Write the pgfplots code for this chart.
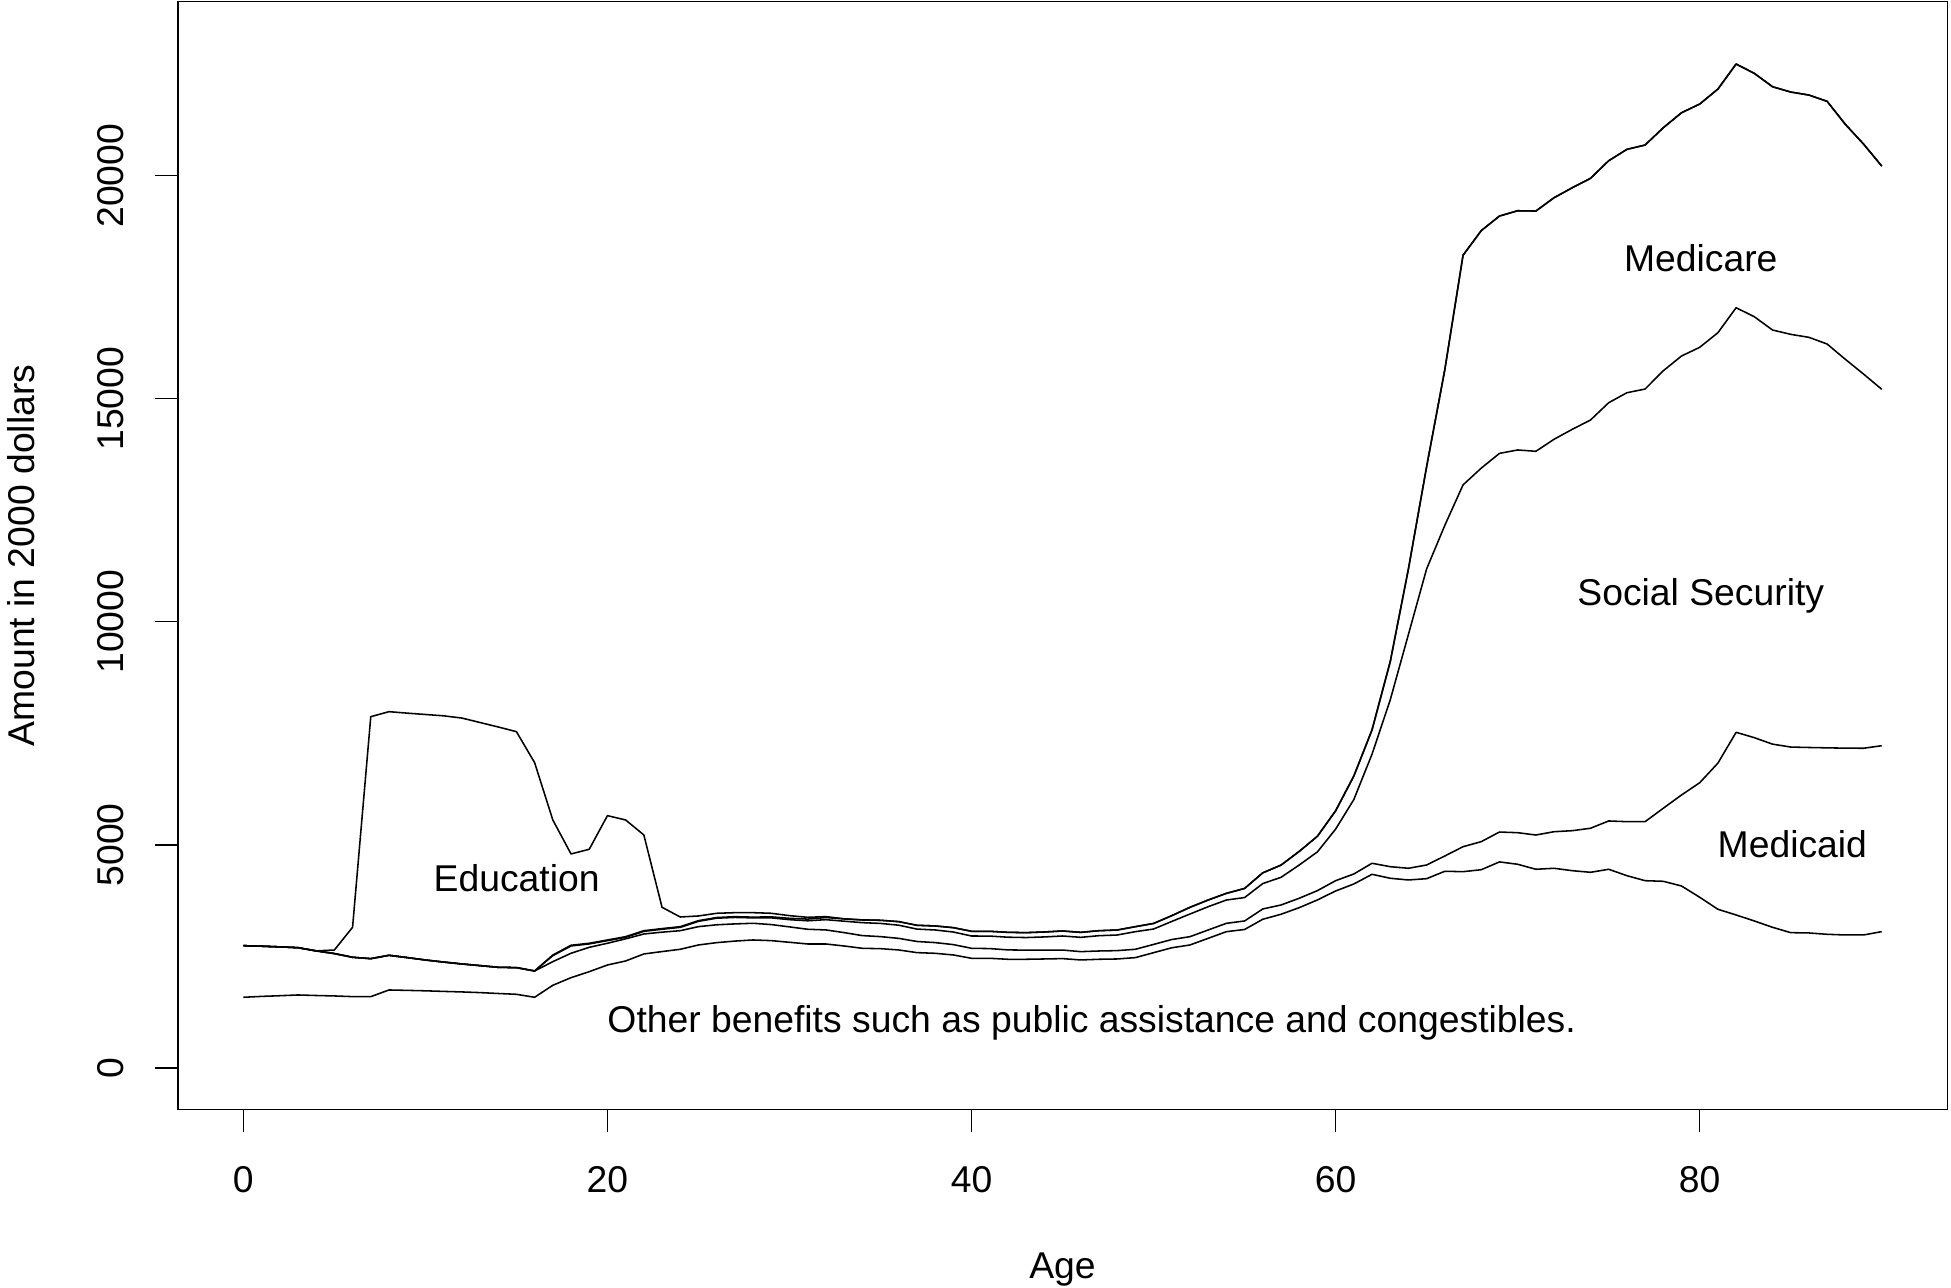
\documentclass[border=0pt]{standalone}
\usepackage{fontspec}
\setmainfont{Liberation Sans}
\usepackage{pgfplots}
\pgfplotsset{compat=1.18}
\usepackage{pgfplotstable}
\pgfplotstableread{
age l1 l2 l3 l4 l5
0 1580 2737 2737 2737 2737
1 1600 2725 2725 2725 2725
2 1615 2710 2710 2710 2710
3 1632 2692 2692 2692 2692
4 1620 2620 2620 2620 2620
5 1610 2560 2560 2560 2640
6 1595 2477 2477 2477 3149
7 1594 2446 2446 2446 7871
8 1744 2521 2521 2521 7983
9 1735 2470 2470 2470 7950
10 1725 2416 2416 2416 7920
11 1712 2370 2370 2370 7890
12 1700 2327 2327 2327 7840
13 1685 2290 2290 2290 7740
14 1665 2252 2252 2252 7640
15 1647 2245 2245 2245 7535
16 1580 2170 2170 2170 6840
17 1849 2379 2513 2528 5555
18 2020 2567 2731 2746 4793
19 2154 2700 2776 2791 4898
20 2304 2791 2850 2865 5652
21 2394 2890 2924 2939 5555
22 2551 2999 3058 3073 5219
23 2605 3040 3105 3120 3597
24 2656 3073 3148 3163 3380
25 2753 3164 3283 3298 3403
26 2805 3205 3353 3368 3463
27 2840 3225 3370 3387 3477
28 2865 3239 3360 3377 3477
29 2850 3210 3360 3383 3463
30 2813 3158 3320 3350 3410
31 2775 3105 3295 3333 3373
32 2775 3090 3320 3368 3388
33 2730 3030 3286 3336 3340
34 2678 2963 3253 3313 3316
35 2670 2940 3236 3306 3306
36 2641 2901 3196 3276 3276
37 2581 2831 3109 3194 3194
38 2566 2806 3089 3179 3179
39 2529 2761 3043 3141 3141
40 2454 2678 2954 3059 3059
41 2454 2672 2952 3059 3059
42 2432 2642 2927 3036 3036
43 2432 2637 2919 3029 3029
44 2439 2637 2933 3044 3044
45 2447 2639 2954 3066 3066
46 2417 2603 2924 3036 3036
47 2432 2618 2961 3073 3073
48 2439 2626 2976 3088 3088
49 2469 2656 3051 3163 3163
50 2580 2765 3110 3235 3235
51 2690 2875 3280 3410 3410
52 2753 2939 3447 3597 3597
53 2902 3089 3611 3761 3761
54 3051 3238 3760 3910 3910
55 3100 3291 3816 4020 4020
56 3329 3560 4130 4370 4370
57 3441 3649 4269 4543 4543
58 3589 3800 4545 4850 4850
59 3762 3971 4840 5190 5190
60 3963 4194 5350 5760 5760
61 4120 4344 6012 6539 6539
62 4337 4584 7030 7574 7574
63 4248 4508 8247 9103 9103
64 4210 4472 9715 11184 11184
65 4239 4546 11184 13477 13477
66 4405 4748 12161 15653 15653
67 4396 4956 13067 18215 18215
68 4440 5069 13443 18767 18767
69 4615 5285 13773 19094 19094
70 4562 5270 13850 19213 19213
71 4450 5218 13820 19206 19206
72 4472 5292 14090 19505 19505
73 4418 5315 14313 19729 19729
74 4382 5369 14521 19939 19939
75 4450 5533 14909 20334 20334
76 4306 5517 15133 20589 20589
77 4194 5517 15216 20686 20686
78 4180 5818 15626 21074 21074
79 4075 6115 15956 21410 21410
80 3822 6390 16151 21605 21605
81 3553 6830 16478 21941 21941
82 3425 7520 17039 22502 22502
83 3291 7400 16837 22293 22293
84 3149 7255 16539 21993 21993
85 3029 7190 16442 21874 21874
86 3022 7180 16375 21807 21807
87 2992 7172 16225 21665 21665
88 2977 7165 15882 21150 21150
89 2977 7163 15552 20708 20708
90 3052 7220 15210 20215 20215
}\data

\begin{document}
\begin{tikzpicture}[font=\fontsize{12pt}{14pt}\selectfont]
\useasboundingbox (-57.2pt,-57.4pt) rectangle (570.4pt,356.9pt);
\begin{axis}[
  at={(0,0)}, anchor=south west,
  scale only axis, width=569.2pt, height=356.4pt,
  xmin=-3.6, xmax=93.6, ymin=-935, ymax=23903,
  axis line style={line width=0.5pt, black},
  xtick={0,20,40,60,80}, xticklabels={0,20,40,60,80},
  ytick={0,5000,10000,15000,20000}, yticklabels={0,5000,10000,15000,20000},
  scaled ticks=false,
  xtick pos=left, ytick pos=left,
  tick align=inside, major tick length=-7.3pt,
  tick style={line width=0.5pt, black},
  xticklabel style={anchor=north, inner sep=0pt},
  yticklabel style={rotate=90, anchor=south, inner sep=0pt},
  xticklabel shift=18.2pt, yticklabel shift=17pt,
  xlabel={Age}, ylabel={Amount in 2000 dollars},
  xlabel style={at={(axis description cs:0.5,-0.1529)}, anchor=base, inner sep=0pt},
  ylabel style={at={(axis description cs:-0.0808,0.5)}, anchor=base, inner sep=0pt},
  clip=false,
]
\addplot[black, line width=0.5pt, line join=round] table[x=age, y=l1] {\data};
\addplot[black, line width=0.5pt, line join=round] table[x=age, y=l2] {\data};
\addplot[black, line width=0.5pt, line join=round] table[x=age, y=l3] {\data};
\addplot[black, line width=0.5pt, line join=round] table[x=age, y=l4] {\data};
\addplot[black, line width=0.5pt, line join=round] table[x=age, y=l5] {\data};
\node[anchor=base] at (axis cs:15.01,3955) {Education};
\node[anchor=base] at (axis cs:80.06,17850) {Medicare};
\node[anchor=base] at (axis cs:80.06,10355) {Social Security};
\node[anchor=base] at (axis cs:85.09,4705) {Medicaid};
\node[anchor=base] at (axis cs:46.6,785) {Other benefits such as public assistance and congestibles.};
\end{axis}
\end{tikzpicture}
\end{document}
